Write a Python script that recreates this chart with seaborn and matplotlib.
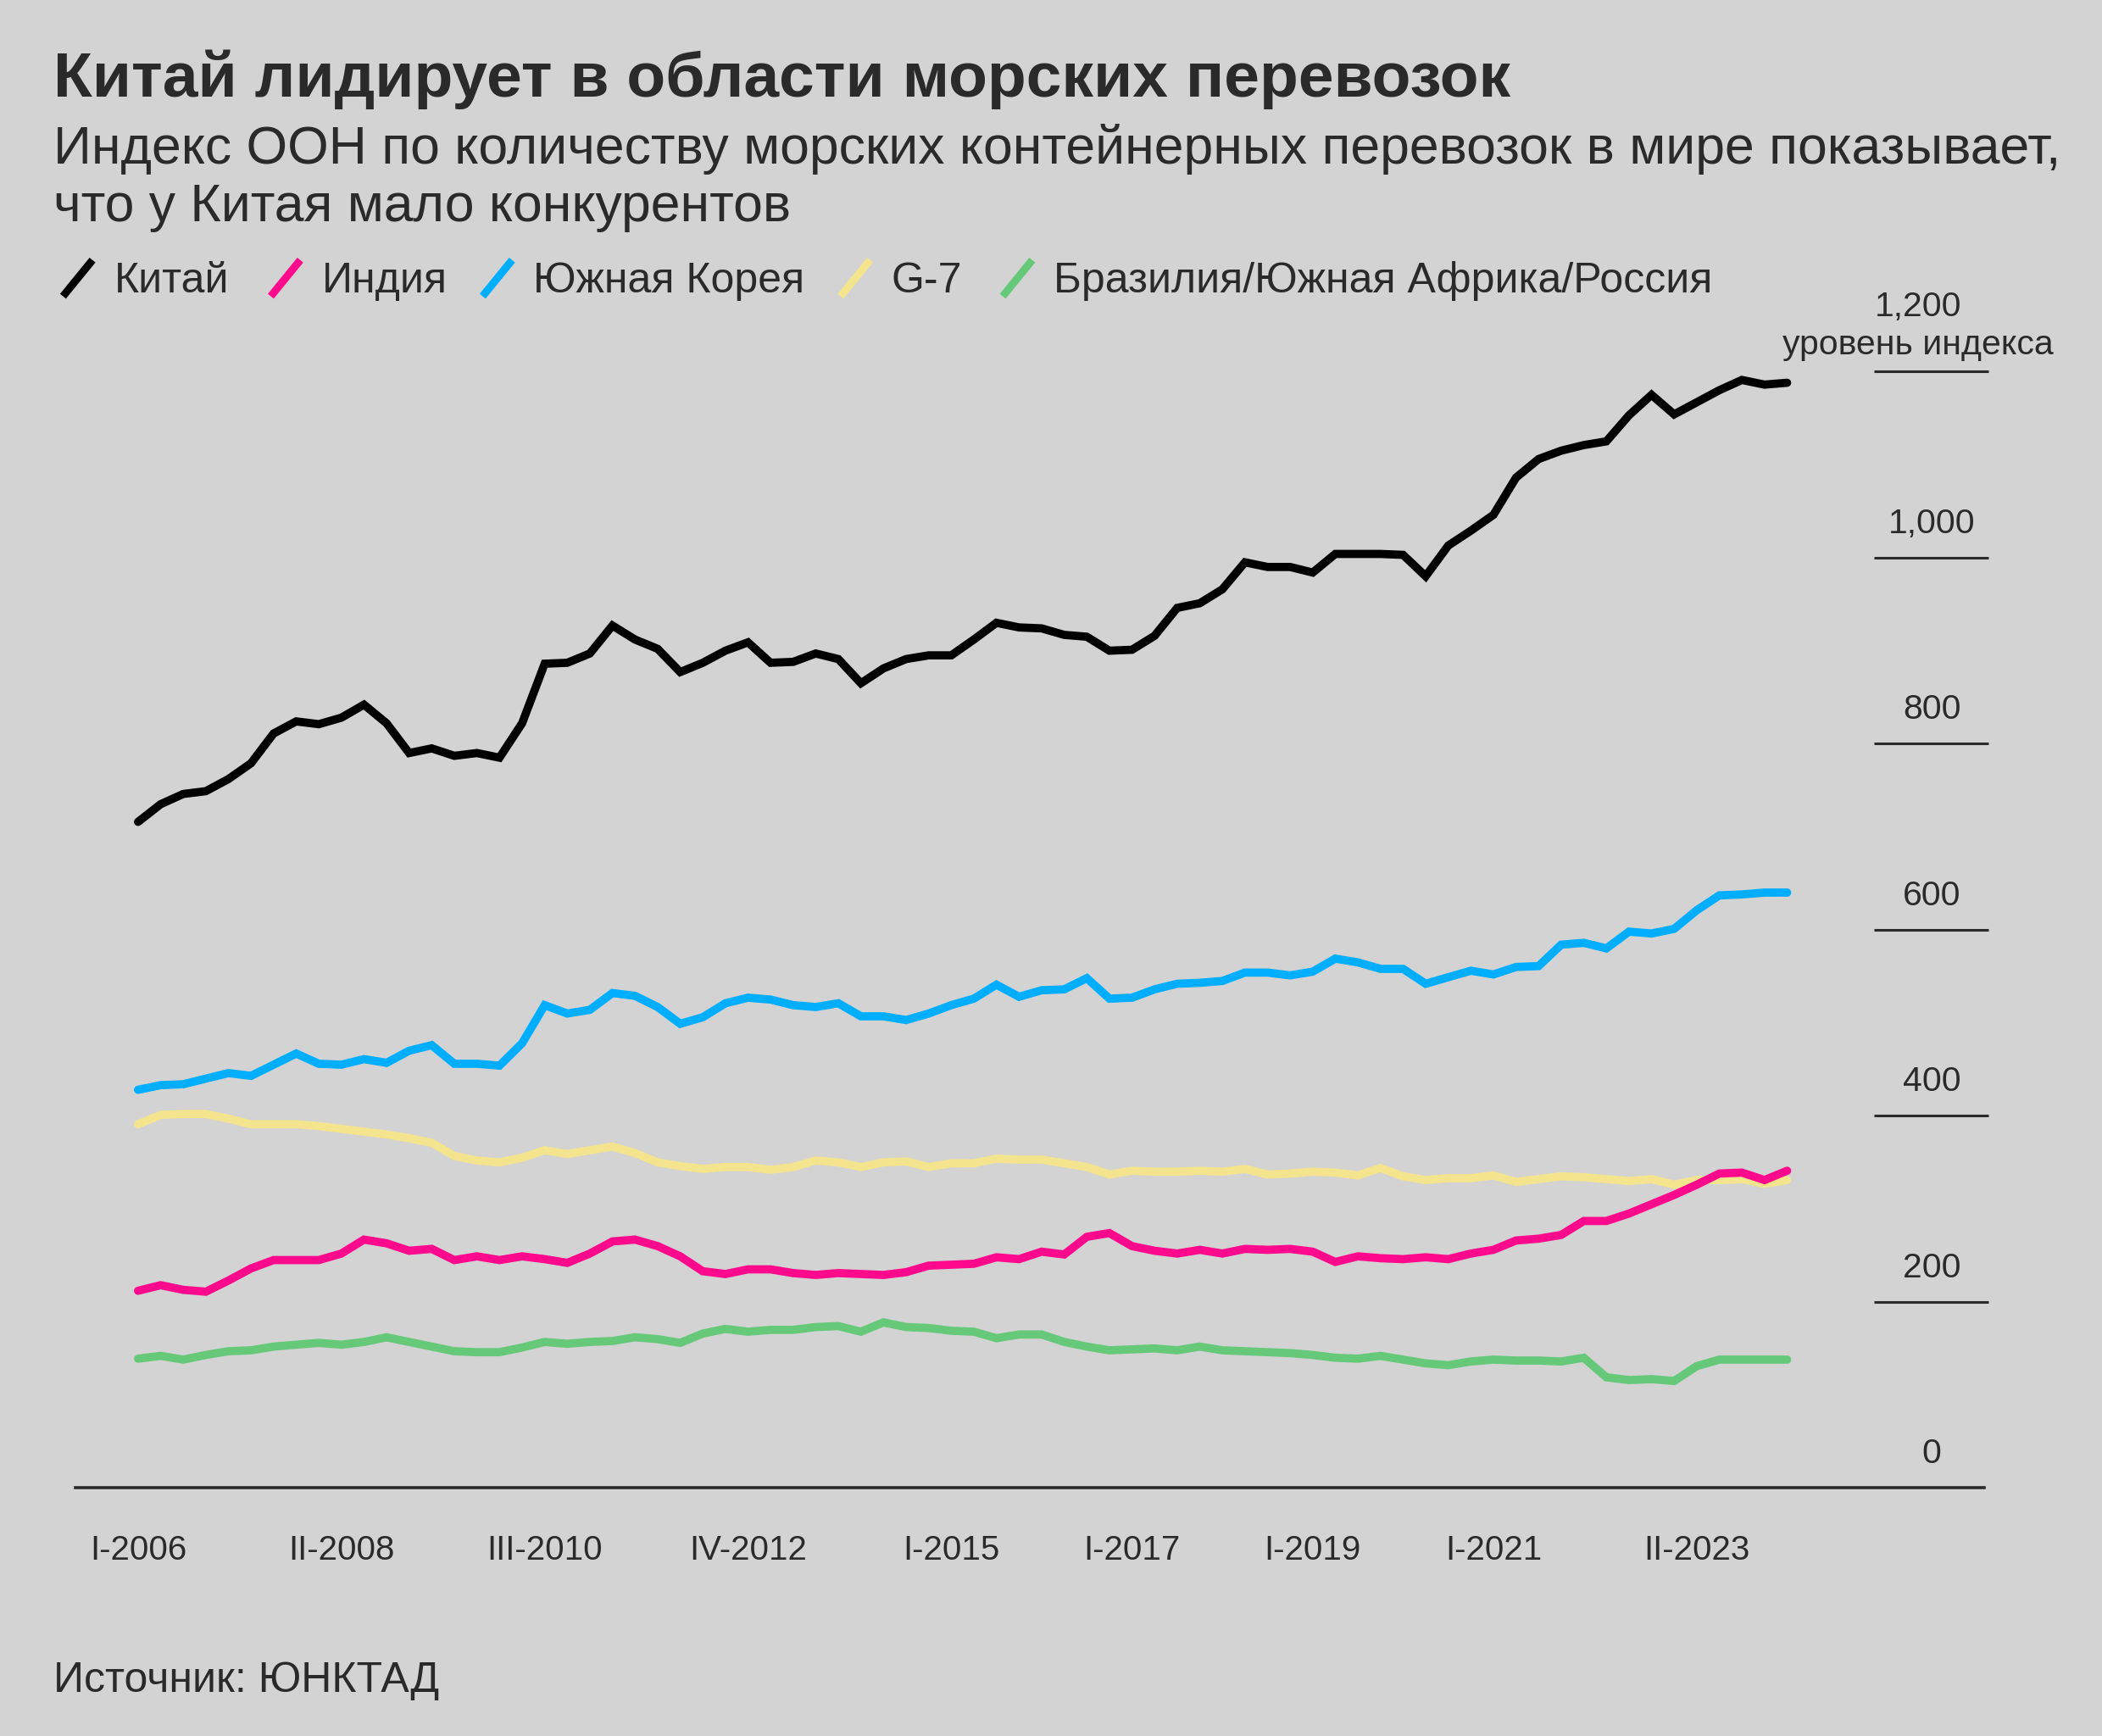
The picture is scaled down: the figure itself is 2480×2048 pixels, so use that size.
import numpy as np
import pandas as pd
import matplotlib
matplotlib.use("Agg")
import matplotlib.pyplot as plt
from matplotlib.lines import Line2D
import seaborn as sns

# quarterly index values, I-2006 .. II-2024
china = [716, 735, 746, 749, 762, 779, 811, 824, 821, 828,
         842, 822, 790, 795, 787, 790, 785, 822, 886, 887,
         897, 927, 912, 902, 877, 887, 900, 909, 887, 888,
         897, 891, 865, 881, 891, 895, 895, 912, 930, 925,
         924, 917, 915, 900, 901, 916, 946, 951, 966, 995,
         990, 990, 984, 1004, 1004, 1004, 1003, 980, 1013, 1029,
         1046, 1086, 1106, 1115, 1121, 1125, 1153, 1175, 1154, 1167,
         1180, 1191, 1186, 1188]
korea = [428, 433, 434, 440, 446, 443, 455, 467, 456, 455,
         461, 457, 470, 476, 456, 456, 454, 478, 519, 510,
         514, 532, 529, 517, 499, 506, 521, 527, 525, 519,
         517, 521, 507, 507, 503, 510, 519, 526, 541, 528,
         535, 536, 548, 526, 527, 536, 542, 543, 545, 554,
         554, 551, 555, 569, 565, 558, 558, 542, 549, 556,
         552, 560, 561, 584, 586, 580, 598, 596, 601, 621,
         637, 638, 640, 640]
g7 = [391, 401, 402, 402, 397, 391, 391, 391, 389, 386,
      383, 380, 376, 371, 357, 352, 350, 355, 363, 359,
      363, 367, 360, 350, 346, 343, 345, 345, 342, 345,
      352, 350, 345, 350, 351, 345, 349, 349, 354, 353,
      353, 349, 345, 337, 341, 340, 340, 341, 340, 343,
      337, 338, 340, 339, 336, 344, 335, 331, 333, 333,
      336, 329, 332, 335, 334, 332, 330, 332, 326, 331,
      331, 332, 327, 331]
india = [212, 218, 213, 211, 223, 236, 245, 245, 245, 252,
         267, 263, 255, 257, 245, 249, 245, 249, 246, 242,
         252, 265, 267, 260, 249, 233, 230, 235, 235, 231,
         229, 231, 230, 229, 232, 239, 240, 241, 248, 246,
         254, 251, 270, 274, 260, 255, 252, 256, 252, 257,
         256, 257, 254, 243, 249, 247, 246, 248, 246, 252,
         256, 266, 268, 272, 287, 287, 295, 305, 315, 326,
         338, 339, 331, 341]
brics = [139, 142, 138, 143, 147, 148, 152, 154, 156, 154,
         157, 162, 157, 152, 147, 146, 146, 151, 157, 155,
         157, 158, 162, 160, 156, 166, 171, 168, 170, 170,
         173, 174, 168, 178, 173, 172, 169, 168, 161, 165,
         165, 157, 152, 148, 149, 150, 148, 152, 148, 147,
         146, 145, 143, 140, 139, 142, 138, 134, 132, 136,
         138, 137, 137, 136, 140, 119, 116, 117, 115, 131,
         138, 138, 138, 138]

series_names = ['Китай', 'Индия', 'Южная Корея', 'G-7', 'Бразилия/Южная Африка/Россия']
series_colors = ['#000000', '#ff0a8c', '#00aeff', '#f5e48e', '#66c97a']
series_values = [china, india, korea, g7, brics]

quarters = ['I', 'II', 'III', 'IV']
periods = [f'{quarters[i % 4]}-{2006 + i // 4}' for i in range(len(china))]
xtick_labels = ['I-2006', 'II-2008', 'III-2010', 'IV-2012', 'I-2015',
                'I-2017', 'I-2019', 'I-2021', 'II-2023']
yticks = [0, 200, 400, 600, 800, 1000, 1200]
ytick_labels = ['0', '200', '400', '600', '800', '1,000', '1,200']

rows = []
for name, vals in zip(series_names, series_values):
    for i, v in enumerate(vals):
        rows.append({'period': periods[i], 'q': i, 'series': name, 'value': v})
df = pd.DataFrame(rows)

BG = '#d3d3d3'
TXT = '#2a2a2a'

sns.set_theme(style='white')
plt.rcParams['font.family'] = ['Liberation Sans', 'DejaVu Sans']

fig = plt.figure(figsize=(24.8, 20.48), dpi=100, facecolor=BG)
ax = fig.add_axes([0.0357, 0.14286, 0.9082, 0.69668])
ax.set_facecolor('none')

# draw order: lower series first, China on top
draw_order = ['Бразилия/Южная Африка/Россия', 'G-7', 'Индия', 'Южная Корея', 'Китай']
palette = dict(zip(series_names, series_colors))
sns.lineplot(data=df, x='q', y='value', hue='series', hue_order=draw_order,
             palette=palette, linewidth=7, legend=False, ax=ax,
             solid_capstyle='round', solid_joinstyle='miter')

ax.set_xlim(-2.79, 81.72)
ax.set_ylim(0, 1300)
for s in ['left', 'right', 'top']:
    ax.spines[s].set_visible(False)
ax.spines['bottom'].set_color(TXT)
ax.spines['bottom'].set_linewidth(2.6)

ax.set_xticks([periods.index(p) for p in xtick_labels])
ax.set_xticklabels(xtick_labels)
ax.tick_params(axis='x', direction='out', length=15, width=1.3, pad=24,
               labelsize=29, colors=TXT)
ax.set_yticks([])
ax.set_xlabel('')
ax.set_ylabel('')

# right-hand scale: short rules with labels above them
ax.hlines(yticks[1:], 76.85, 81.9, color=TXT, linewidth=2.2, clip_on=False)
for v, lab in zip(yticks[:-1], ytick_labels[:-1]):
    ax.annotate(lab, xy=(79.4, v), xytext=(0, 21), textcoords='offset points',
                ha='center', va='baseline', fontsize=29.5, color=TXT,
                annotation_clip=False)
ax.annotate(ytick_labels[-1], xy=(78.8, yticks[-1]), xytext=(0, 47),
            textcoords='offset points', ha='center', va='baseline',
            fontsize=29.5, color=TXT, annotation_clip=False)
ax.annotate('уровень индекса', xy=(78.8, yticks[-1]), xytext=(0, 15),
            textcoords='offset points', ha='center', va='baseline',
            fontsize=29.5, color=TXT, annotation_clip=False)

# titles
fig.text(0.0255, 0.9444, 'Китай лидирует в области морских перевозок',
         fontsize=54, fontweight='bold', color=TXT, va='baseline')
fig.text(0.0255, 0.9058,
         'Индекс ООН по количеству морских контейнерных перевозок в мире показывает,',
         fontsize=45, color=TXT, va='baseline')
fig.text(0.0255, 0.8726, 'что у Китая мало конкурентов',
         fontsize=45, color=TXT, va='baseline')

# legend with slanted strokes
W, H = 1568.0, 1295.0
legend_text_x = [85, 240, 398, 665, 786]
leg_base = 218
for name, col, tx in zip(series_names, series_colors, legend_text_x):
    x0 = tx - 38
    fig.add_artist(Line2D([x0 / W, (x0 + 22) / W],
                          [1 - 221 / H, 1 - 194 / H],
                          transform=fig.transFigure, color=col,
                          linewidth=6.5, solid_capstyle='butt'))
    fig.text(tx / W, 1 - leg_base / H, name, fontsize=36, color=TXT,
             va='baseline')

fig.text(0.0255, 1 - 1262 / H, 'Источник: ЮНКТАД', fontsize=36, color=TXT,
         va='baseline')

fig.savefig('out.png', dpi=100, facecolor=BG)
